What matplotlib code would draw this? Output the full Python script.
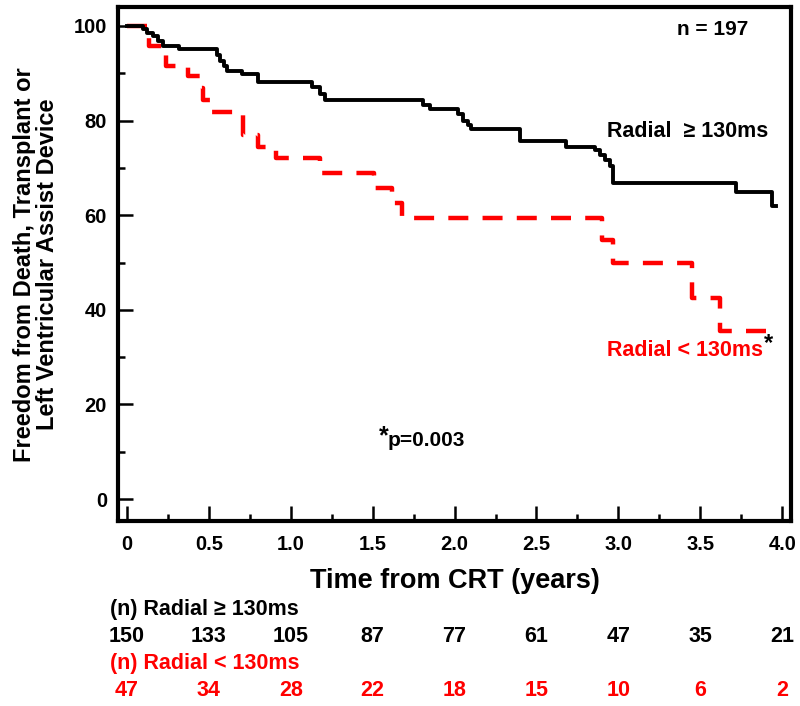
import numpy as np
import matplotlib.pyplot as plt
from matplotlib.transforms import blended_transform_factory

# Kaplan-Meier steps (time in years, survival in %)
t_high = [0, 0.10, 0.12, 0.16, 0.19, 0.22, 0.32, 0.55, 0.57, 0.59, 0.61, 0.70, 0.80,
          1.13, 1.18, 1.21, 1.81, 1.85, 2.02, 2.05, 2.08, 2.10, 2.40, 2.68, 2.86,
          2.89, 2.92, 2.95, 2.97, 3.72, 3.94, 3.96]
s_high = [100, 99.4, 98.5, 97.8, 96.8, 95.8, 95.1, 93.8, 92.6, 91.5, 90.5, 89.8, 88.1,
          87.0, 85.6, 84.4, 83.4, 82.5, 81.4, 80.0, 79.1, 78.2, 75.6, 74.5, 73.8,
          72.8, 71.7, 70.4, 66.8, 64.8, 62.0, 62.0]

t_low = [0, 0.13, 0.135, 0.235, 0.24, 0.37, 0.45, 0.465, 0.51, 0.71, 0.80, 0.91,
         1.18, 1.51, 1.62, 1.68, 2.90, 2.97, 3.45, 3.62, 3.96]
s_low = [100, 97.9, 95.7, 93.6, 91.5, 89.4, 86.9, 84.4, 81.9, 77.0, 74.5, 72.0,
         68.9, 65.8, 62.6, 59.4, 54.8, 49.9, 42.6, 35.6, 35.6]

tick_years = [0, 0.5, 1.0, 1.5, 2.0, 2.5, 3.0, 3.5, 4.0]
tick_labels = ['0', '0.5', '1.0', '1.5', '2.0', '2.5', '3.0', '3.5', '4.0']
risk_high = [150, 133, 105, 87, 77, 61, 47, 35, 21]
risk_low = [47, 34, 28, 22, 18, 15, 10, 6, 2]

red = '#ff0000'
arial = ['Liberation Sans', 'DejaVu Sans']

fig = plt.figure(figsize=(8, 7.06), dpi=100)
ax = fig.add_axes([0.1475, 0.262, 0.8415, 0.728])

ax.step(t_high, s_high, where='post', color='black', lw=2.8, zorder=3)
ax.step(t_low, s_low, where='post', color=red, lw=3.2, linestyle=(0, (4.5, 3.2)), zorder=2)

ax.set_xlim(-0.055, 4.055)
ax.set_ylim(-4.65, 104)

for sp in ax.spines.values():
    sp.set_linewidth(3)

ax.set_yticks(range(0, 101, 20))
ax.set_yticks(range(10, 100, 20), minor=True)
ax.set_yticklabels([str(v) for v in range(0, 101, 20)], fontsize=14.5,
                   fontweight='bold', family=arial)
ax.set_xticks(tick_years)
ax.set_xticks(np.arange(0.25, 4.0, 0.5), minor=True)
ax.set_xticklabels(tick_labels, fontsize=14.5, fontweight='bold', family=arial)
ax.tick_params(axis='both', which='major', direction='in', length=11, width=1.8,
               pad=8)
ax.tick_params(axis='both', which='minor', direction='in', length=5, width=1.8)
ax.tick_params(axis='x', which='major', pad=10)

ax.set_xlabel('Time from CRT (years)', fontsize=19.5, fontweight='bold',
              family=arial, labelpad=10)
fig.text(0.045, 0.625, 'Freedom from Death, Transplant or\nLeft Ventricular Assist Device',
         rotation=90, ha='center', va='center', fontsize=17, fontweight='bold',
         family=arial, linespacing=1.05)

ax.text(3.36, 99.2, 'n = 197', fontsize=15, fontweight='bold', family=arial,
        ha='left', va='center')
ax.text(2.93, 77.6, 'Radial  \u2265 130ms', fontsize=15.5, fontweight='bold',
        family=arial, ha='left', va='center')
ax.text(3.88, 31.5, 'Radial < 130ms', fontsize=15.5, fontweight='bold',
        family=arial, color=red, ha='right', va='center')
ax.text(3.915, 32.8, '*', fontsize=17, fontweight='bold', family=arial,
        ha='center', va='center')
ax.text(1.565, 13.3, '*', fontsize=18, fontweight='bold', family=arial,
        ha='center', va='center')
ax.text(1.59, 12.3, 'p=0.003', fontsize=15, fontweight='bold', family=arial,
        ha='left', va='center')

# numbers at risk under the axis
tr = blended_transform_factory(ax.transData, fig.transFigure)
fig.text(0.137, 1 - 610 / 706, '(n) Radial \u2265 130ms', fontsize=15.5,
         fontweight='bold', family=arial, ha='left', va='center')
fig.text(0.137, 1 - 663 / 706, '(n) Radial < 130ms', fontsize=15.5,
         fontweight='bold', family=arial, color=red, ha='left', va='center')
for x, a, b in zip(tick_years, risk_high, risk_low):
    ax.text(x, 1 - 637 / 706, str(a), transform=tr, fontsize=15.5, fontweight='bold',
            family=arial, ha='center', va='center', clip_on=False)
    ax.text(x, 1 - 691 / 706, str(b), transform=tr, fontsize=15.5, fontweight='bold',
            family=arial, color=red, ha='center', va='center', clip_on=False)

fig.savefig('out.png', dpi=100)
